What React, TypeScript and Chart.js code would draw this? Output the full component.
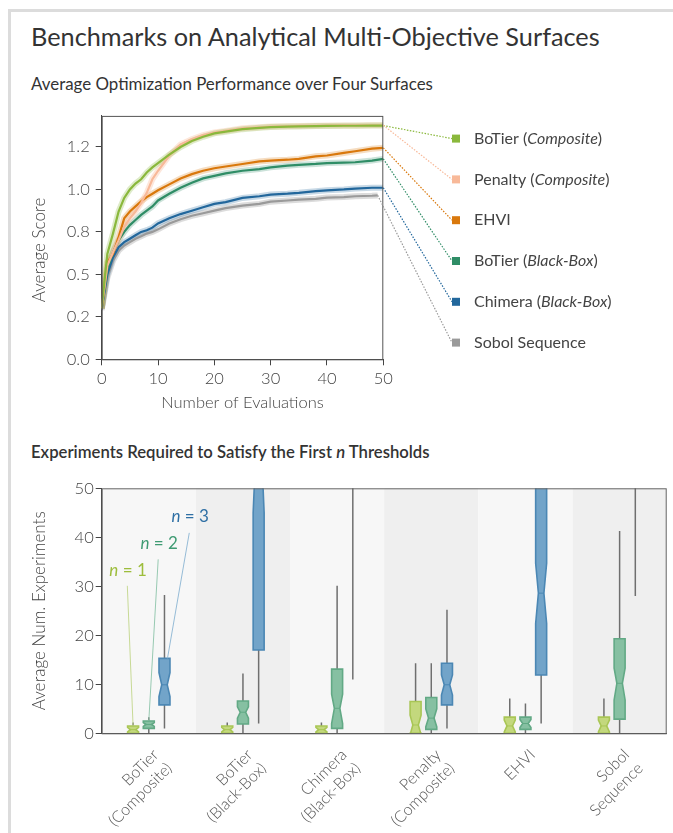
import React, { useEffect, useRef } from "react";
import { Chart, registerables } from "chart.js";

Chart.register(...registerables);

const FONT = "Lato, 'Open Sans', sans-serif";

// ---------------- Top chart data ----------------
const EVALS = [0, 1, 2, 3, 4, 5, 6, 7, 8, 9, 10, 12, 14, 16, 18, 20, 22, 25, 28, 30, 33, 35, 38, 40, 43, 45, 48, 50];
const SOBOL_EVALS = [0, 1, 2, 3, 4, 5, 6, 7, 8, 9, 10, 12, 14, 16, 18, 20, 22, 25, 28, 30, 33, 35, 38, 40, 43, 45, 48, 49];

const BOTIER_COMPOSITE = [0.30, 0.62, 0.74, 0.87, 0.95, 1.0, 1.035, 1.06, 1.10, 1.13, 1.155, 1.205, 1.25, 1.285, 1.31, 1.33, 1.34, 1.355, 1.363, 1.367, 1.37, 1.371, 1.373, 1.374, 1.375, 1.375, 1.376, 1.376];
const PENALTY_COMPOSITE = [0.30, 0.55, 0.63, 0.70, 0.78, 0.83, 0.87, 0.92, 0.98, 1.06, 1.11, 1.20, 1.265, 1.295, 1.32, 1.335, 1.345, 1.36, 1.366, 1.37, 1.372, 1.374, 1.375, 1.376, 1.377, 1.377, 1.378, 1.378];
const EHVI = [0.30, 0.57, 0.62, 0.72, 0.83, 0.87, 0.90, 0.93, 0.955, 0.975, 0.995, 1.03, 1.065, 1.09, 1.11, 1.125, 1.135, 1.15, 1.165, 1.17, 1.175, 1.18, 1.195, 1.20, 1.215, 1.225, 1.24, 1.245];
const BOTIER_BLACKBOX = [0.30, 0.53, 0.63, 0.70, 0.75, 0.79, 0.82, 0.85, 0.875, 0.90, 0.935, 0.975, 1.01, 1.04, 1.065, 1.08, 1.095, 1.11, 1.12, 1.13, 1.14, 1.145, 1.15, 1.155, 1.158, 1.16, 1.17, 1.18];
const CHIMERA_BLACKBOX = [0.30, 0.50, 0.60, 0.66, 0.69, 0.71, 0.73, 0.75, 0.76, 0.775, 0.80, 0.83, 0.855, 0.875, 0.895, 0.915, 0.925, 0.95, 0.96, 0.97, 0.975, 0.98, 0.99, 0.995, 1.0, 1.005, 1.01, 1.01];
const SOBOL_SEQUENCE = [0.29, 0.48, 0.58, 0.64, 0.67, 0.69, 0.71, 0.725, 0.74, 0.75, 0.765, 0.80, 0.825, 0.845, 0.86, 0.875, 0.89, 0.905, 0.915, 0.928, 0.935, 0.94, 0.945, 0.952, 0.955, 0.96, 0.963, 0.965];

const Y_TICKS = [0, 0.25, 0.5, 0.75, 1.0, 1.25];
const Y_TICK_LABELS = ["0.0", "0.2", "0.5", "0.8", "1.0", "1.2"];
const X_TICKS_TOP = [0, 10, 20, 30, 40, 50];

// ---------------- Bottom chart data ----------------
const METHODS = [
  ["BoTier", "(Composite)"],
  ["BoTier", "(Black-Box)"],
  ["Chimera", "(Black-Box)"],
  ["Penalty", "(Composite)"],
  "EHVI",
  ["Sobol", "Sequence"],
];
// each tuple: [whiskerLow, q1, notchLow, median, notchHigh, q3, whiskerHigh]
const N1_STATS = [
  [0, 0, 0.3, 0.75, 1.2, 1.5, 2.2],
  [0, 0, 0.3, 0.75, 1.2, 1.5, 2.2],
  [0, 0, 0.3, 0.75, 1.2, 1.5, 2.2],
  [0, 0, -0.3, 1.7, 3.7, 6.5, 14.3],
  [0, 0, 0.3, 1.5, 2.7, 3.3, 7.1],
  [0, 0, 0.3, 1.5, 2.7, 3.3, 7.1],
];
const N2_STATS = [
  [0, 1.0, 1.4, 1.8, 2.2, 2.5, 3.3],
  [0, 1.9, 3.1, 4.3, 5.4, 6.6, 12.2],
  [0, 1.0, 2.0, 5.1, 8.0, 13.1, 30.1],
  [0, 0.8, 1.3, 3.1, 5.0, 7.3, 14.3],
  [0, 0.8, 1.2, 2.0, 2.8, 3.3, 6.1],
  [0, 2.9, 6.8, 10.2, 13.3, 19.3, 41.3],
];
const N3_STATS = [
  [1.0, 5.8, 7.5, 9.9, 12.4, 15.3, 28.2],
  [2.0, 17.0, 45.0, 58, 71, 80, 100],
  [11.0, 60, 65, 70, 75, 85, 100],
  [1.0, 5.8, 7.8, 9.9, 11.9, 14.3, 25.2],
  [2.0, 11.9, 22.4, 28.6, 34.7, 60, 100],
  [28.0, 60, 65, 70, 75, 85, 100],
];
const Y_TICKS_BOTTOM = [0, 10, 20, 30, 40, 50];

// annotation: label number, text anchor (category index, value), leader start (category index, value)
const ANNOT_N = [1, 2, 3];
const ANNOT_TEXT_POS = [[-0.22, 33.3], [0.11, 38.8], [0.44, 44.2]];
const ANNOT_LEADER_START = [[-0.228, 30.1], [0.10, 35.5], [0.43, 40.9]];

type Seg = [string, boolean];

function TopChart() {
  const ref = useRef<HTMLCanvasElement>(null);
  useEffect(() => {
    const canvas = ref.current!;
    const series = [
      { label: [["BoTier (", false], ["Composite", true], [")", false]] as Seg[], color: "#8ab83c", band: "rgba(138,184,60,0.28)", x: EVALS, v: BOTIER_COMPOSITE },
      { label: [["Penalty (", false], ["Composite", true], [")", false]] as Seg[], color: "#f8b999", band: "rgba(248,185,153,0.35)", x: EVALS, v: PENALTY_COMPOSITE },
      { label: [["EHVI", false]] as Seg[], color: "#d9780c", band: "rgba(217,120,12,0.25)", x: EVALS, v: EHVI },
      { label: [["BoTier (", false], ["Black-Box", true], [")", false]] as Seg[], color: "#2f8d66", band: "rgba(47,141,102,0.25)", x: EVALS, v: BOTIER_BLACKBOX },
      { label: [["Chimera (", false], ["Black-Box", true], [")", false]] as Seg[], color: "#22679c", band: "rgba(34,103,156,0.25)", x: EVALS, v: CHIMERA_BLACKBOX },
      { label: [["Sobol Sequence", false]] as Seg[], color: "#9a9a9a", band: "rgba(140,140,140,0.3)", x: SOBOL_EVALS, v: SOBOL_SEQUENCE },
    ];
    const lines = series.map((s) => ({
      data: s.x.map((xv, i) => ({ x: xv, y: s.v[i] })),
      borderColor: s.color,
      borderWidth: 2.2,
      pointRadius: 0,
      tension: 0,
      fill: false,
    }));
    const bands = series.map((s) => ({
      data: s.x.map((xv, i) => ({ x: xv, y: s.v[i] })),
      borderColor: s.band,
      borderWidth: 6,
      pointRadius: 0,
      tension: 0,
      fill: false,
    }));

    const deco = {
      id: "deco",
      afterDraw(chart: any) {
        const { ctx, chartArea, scales } = chart;
        const xs = scales.x;
        const ys = scales.y;
        ctx.save();
        ctx.strokeStyle = "#555";
        ctx.lineWidth = 1;
        ctx.strokeRect(chartArea.left + 0.5, chartArea.top + 0.5, chartArea.right - chartArea.left - 1, chartArea.bottom - chartArea.top);
        // y title
        ctx.save();
        ctx.translate(40, 150);
        ctx.rotate(-Math.PI / 2);
        ctx.textAlign = "center";
        ctx.textBaseline = "middle";
        ctx.fillStyle = "#444";
        ctx.font = `300 17px ${FONT}`;
        ctx.fillText("Average Score", 0, 0);
        ctx.restore();
        // legend
        const markerX = chartArea.right + 72.7;
        const textX = chartArea.right + 90.7;
        series.forEach((s, i) => {
          const my = chartArea.top + 22.7 + i * 40.8;
          const lastX = s.x[s.x.length - 1];
          const lastV = s.v[s.v.length - 1];
          const px = xs.getPixelForValue(lastX);
          const py = ys.getPixelForValue(lastV);
          ctx.save();
          ctx.setLineDash([1.5, 1.5]);
          ctx.strokeStyle = s.color;
          ctx.lineWidth = 1.2;
          ctx.beginPath();
          ctx.moveTo(px, py);
          ctx.lineTo(markerX - 4, my);
          ctx.stroke();
          ctx.restore();
          ctx.fillStyle = s.color;
          ctx.fillRect(markerX - 4, my - 4, 8, 8);
          let tx = textX;
          ctx.fillStyle = "#444";
          ctx.textBaseline = "middle";
          ctx.textAlign = "left";
          for (const [t, it] of s.label) {
            ctx.font = `${it ? "italic " : ""}16px ${FONT}`;
            ctx.fillText(t, tx, my);
            tx += ctx.measureText(t).width;
          }
        });
        ctx.restore();
      },
    };

    const chart = new Chart(canvas, {
      type: "line",
      data: { datasets: [...lines, ...bands] as any },
      options: {
        animation: false,
        responsive: false,
        maintainAspectRatio: false,
        layout: { padding: { left: 20, right: 289.7, top: 13.3, bottom: 0 } },
        plugins: { legend: { display: false }, tooltip: { enabled: false } },
        scales: {
          x: {
            type: "linear",
            min: 0,
            max: 50,
            afterBuildTicks: (s: any) => {
              s.ticks = X_TICKS_TOP.map((v) => ({ value: v }));
            },
            ticks: { font: { family: FONT, size: 16.5, weight: "300" }, color: "#444", padding: 3, maxRotation: 0 },
            grid: { drawOnChartArea: false, tickLength: 6, color: "#444" },
            border: { color: "#444" },
            title: { display: true, text: "Number of Evaluations", font: { family: FONT, size: 16.5, weight: "300" }, color: "#444", padding: { top: 0, bottom: 7.3 } },
            afterFit: (s: any) => {
              s.height = 60.7;
            },
          },
          y: {
            type: "linear",
            min: 0,
            max: 1.433,
            afterBuildTicks: (s: any) => {
              s.ticks = Y_TICKS.map((v) => ({ value: v }));
            },
            ticks: {
              font: { family: FONT, size: 16.5, weight: "300" },
              color: "#444",
              padding: 6,
              callback: (v: any) => Y_TICK_LABELS[Y_TICKS.indexOf(v)],
            },
            grid: { drawOnChartArea: false, tickLength: 6, color: "#444" },
            border: { color: "#444" },
            afterFit: (s: any) => {
              s.width = 81.7;
            },
          },
        },
      } as any,
      plugins: [deco],
    });
    return () => chart.destroy();
  }, []);
  return <canvas ref={ref} width={673} height={320} style={{ position: "absolute", left: 0, top: 100, width: 673, height: 320, display: "block" }} />;
}

function BottomChart() {
  const ref = useRef<HTMLCanvasElement>(null);
  useEffect(() => {
    const canvas = ref.current!;
    const groups = [
      { stats: N1_STATS, fill: "#c3d87d", stroke: "#a9c655", text: "#9dbd3c", leader: "#c2d68a" },
      { stats: N2_STATS, fill: "#86c0a2", stroke: "#62a985", text: "#3f9b73", leader: "#8cc4a9" },
      { stats: N3_STATS, fill: "#72a4c9", stroke: "#4b87b4", text: "#2e6fa4", leader: "#8ab4d3" },
    ];

    const deco = {
      id: "deco2",
      beforeDraw(chart: any) {
        const { ctx, chartArea, scales } = chart;
        const xs = scales.x;
        const catW = xs.getPixelForValue(1) - xs.getPixelForValue(0);
        ctx.save();
        METHODS.forEach((_, j) => {
          const c = xs.getPixelForValue(j);
          ctx.fillStyle = j % 2 === 0 ? "#f7f7f7" : "#efefef";
          ctx.fillRect(c - catW / 2, chartArea.top, catW, chartArea.bottom - chartArea.top);
        });
        ctx.restore();
      },
      afterDatasetsDraw(chart: any) {
        const { ctx, chartArea, scales } = chart;
        const xs = scales.x;
        const ys = scales.y;
        ctx.save();
        ctx.beginPath();
        ctx.rect(chartArea.left, chartArea.top, chartArea.right - chartArea.left, chartArea.bottom - chartArea.top);
        ctx.clip();
        groups.forEach((g, gi) => {
          const meta = chart.getDatasetMeta(gi);
          meta.data.forEach((el: any, j: number) => {
            const [lo, q1, nlo, med, nhi, q3, hi] = g.stats[j];
            const x = el.x;
            const w = el.width;
            const L = x - w / 2;
            const R = x + w / 2;
            const P = (v: number) => ys.getPixelForValue(v);
            ctx.strokeStyle = "#6f6f6f";
            ctx.lineWidth = 1.5;
            ctx.beginPath();
            ctx.moveTo(x, P(lo));
            ctx.lineTo(x, P(q1));
            ctx.moveTo(x, P(q3));
            ctx.lineTo(x, P(hi));
            ctx.stroke();
            const inset = w / 4;
            ctx.beginPath();
            ctx.moveTo(L, P(q1));
            ctx.lineTo(R, P(q1));
            ctx.lineTo(R, P(nlo));
            ctx.lineTo(R - inset, P(med));
            ctx.lineTo(R, P(nhi));
            ctx.lineTo(R, P(q3));
            ctx.lineTo(L, P(q3));
            ctx.lineTo(L, P(nhi));
            ctx.lineTo(L + inset, P(med));
            ctx.lineTo(L, P(nlo));
            ctx.closePath();
            ctx.fillStyle = g.fill;
            ctx.fill();
            ctx.strokeStyle = g.stroke;
            ctx.lineWidth = 1.6;
            ctx.stroke();
            ctx.beginPath();
            ctx.moveTo(L + inset, P(med));
            ctx.lineTo(R - inset, P(med));
            ctx.strokeStyle = g.stroke;
            ctx.lineWidth = 1;
            ctx.stroke();
          });
        });
        ctx.restore();

        ctx.save();
        groups.forEach((g, gi) => {
          const el = chart.getDatasetMeta(gi).data[0];
          const q3 = g.stats[0][5];
          const [sx, sy] = ANNOT_LEADER_START[gi];
          ctx.strokeStyle = g.leader;
          ctx.lineWidth = 0.9;
          ctx.beginPath();
          ctx.moveTo(xs.getPixelForValue(sx), ys.getPixelForValue(sy));
          ctx.lineTo(el.x + (gi === 2 ? 3 : 0), ys.getPixelForValue(q3));
          ctx.stroke();
          const [tx, ty] = ANNOT_TEXT_POS[gi];
          const cx = xs.getPixelForValue(tx);
          const cy = ys.getPixelForValue(ty);
          const a = "n";
          const b = ` = ${ANNOT_N[gi]}`;
          ctx.font = `italic 17px ${FONT}`;
          const wa = ctx.measureText(a).width;
          ctx.font = `17px ${FONT}`;
          const wb = ctx.measureText(b).width;
          const x0 = cx - (wa + wb) / 2;
          ctx.fillStyle = g.text;
          ctx.textBaseline = "middle";
          ctx.textAlign = "left";
          ctx.font = `italic 17px ${FONT}`;
          ctx.fillText(a, x0, cy);
          ctx.font = `17px ${FONT}`;
          ctx.fillText(b, x0 + wa, cy);
        });
        ctx.restore();
      },
      afterDraw(chart: any) {
        const { ctx, chartArea } = chart;
        ctx.save();
        ctx.strokeStyle = "#666";
        ctx.lineWidth = 1;
        ctx.strokeRect(chartArea.left + 0.5, chartArea.top + 0.5, chartArea.right - chartArea.left - 1, chartArea.bottom - chartArea.top);
        ctx.restore();
      },
    };

    const chart = new Chart(canvas, {
      type: "bar",
      data: {
        labels: METHODS as any,
        datasets: groups.map((g) => ({
          data: g.stats.map((s) => [s[1], s[5]]),
          backgroundColor: "rgba(0,0,0,0)",
          borderWidth: 0,
          categoryPercentage: 0.5,
          barPercentage: 0.7,
        })) as any,
      },
      options: {
        animation: false,
        responsive: false,
        maintainAspectRatio: false,
        layout: { padding: { left: 20, right: 6.3, top: 18.3, bottom: 0 } },
        plugins: { legend: { display: false }, tooltip: { enabled: false } },
        scales: {
          x: {
            type: "category",
            ticks: { font: { family: FONT, size: 16, weight: "300" }, color: "#555", padding: 4, labelOffset: 7, maxRotation: 45, minRotation: 45, autoSkip: false },
            grid: { display: false },
            border: { color: "#444" },
            afterFit: (s: any) => {
              s.height = 99.7;
            },
          },
          y: {
            type: "linear",
            min: 0,
            max: 50,
            afterBuildTicks: (s: any) => {
              s.ticks = Y_TICKS_BOTTOM.map((v) => ({ value: v }));
            },
            ticks: { font: { family: FONT, size: 16.5, weight: "300" }, color: "#444", padding: 2 },
            grid: { drawOnChartArea: false, tickLength: 6, color: "#444" },
            border: { color: "#444" },
            title: { display: true, text: "Average Num. Experiments", font: { family: FONT, size: 17, weight: "300" }, color: "#444", padding: { top: 9.8, bottom: 0 } },
            afterFit: (s: any) => {
              s.width = 81.7;
            },
          },
        },
      } as any,
      plugins: [deco],
    });
    return () => chart.destroy();
  }, []);
  return <canvas ref={ref} width={673} height={363} style={{ position: "absolute", left: 0, top: 470, width: 673, height: 363, display: "block" }} />;
}

export default function App() {
  return (
    <div style={{ position: "absolute", left: 0, top: 0, width: 673, height: 833, overflow: "hidden", background: "#fff", fontFamily: FONT }}>
      <div style={{ position: "absolute", left: 8, top: 9, width: 720, height: 900, border: "3px solid #dcdcdc", boxSizing: "border-box" }} />
      <div style={{ position: "absolute", left: 31, top: 21, fontSize: 25.3, lineHeight: "30.4px", color: "#333", whiteSpace: "nowrap" }}>
        Benchmarks on Analytical Multi-Objective Surfaces
      </div>
      <div style={{ position: "absolute", left: 31, top: 74, fontSize: 16.9, lineHeight: "20.3px", color: "#333", whiteSpace: "nowrap" }}>
        Average Optimization Performance over Four Surfaces
      </div>
      <div style={{ position: "absolute", left: 31, top: 441.8, fontSize: 16.7, lineHeight: "20px", color: "#333", fontWeight: 600, whiteSpace: "nowrap" }}>
        Experiments Required to Satisfy the First <i>n</i> Thresholds
      </div>
      <TopChart />
      <BottomChart />
    </div>
  );
}
